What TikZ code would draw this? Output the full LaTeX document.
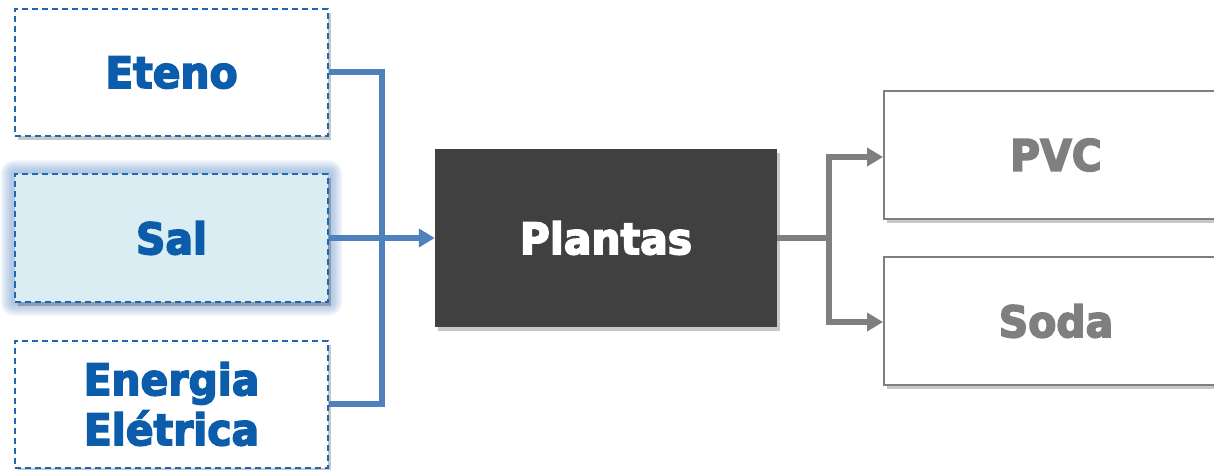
\documentclass[tikz,border=0pt]{standalone}
\usepackage{fontspec}
\setmainfont{DejaVu Sans}
\newfontfamily\heavyfont[FakeBold=3.5, FakeStretch=0.94]{DejaVu Sans Bold}
\usetikzlibrary{arrows.meta,shadows,backgrounds}
\definecolor{tblue}{HTML}{0B5CAB}
\definecolor{dblue}{HTML}{1F66B3}
\definecolor{cblue}{HTML}{4F81BD}
\definecolor{lfill}{HTML}{DAEDF3}
\definecolor{dark}{HTML}{404040}
\definecolor{tgray}{HTML}{7F7F7F}
\begin{document}
\begin{tikzpicture}[x=1pt,y=-1pt,
  bigtext/.style={font=\fontsize{43.5}{50}\selectfont\heavyfont, align=center},
  inbox/.style={bigtext, draw=dblue, line width=2pt, dash pattern=on 6pt off 4pt,
    fill=white, text=tblue, minimum width=313pt, minimum height=127pt, inner sep=0pt,
    drop shadow={shadow xshift=3pt, shadow yshift=-4pt, opacity=0.22, fill=black}},
  outbox/.style={bigtext, draw=tgray, line width=2pt, fill=white, text=tgray,
    minimum width=344pt, minimum height=128pt, inner sep=0pt,
    drop shadow={shadow xshift=3pt, shadow yshift=-4pt, opacity=0.22, fill=black}},
  bline/.style={draw=cblue, line width=6pt},
  gline/.style={draw=tgray, line width=6pt},
  btip/.style={-{Triangle[length=16pt,width=18pt]}},
]
\useasboundingbox (0,0) rectangle (1214,470);
\node[inbox] (eteno) at (171.5,72.5) {Eteno};
\node[inbox, fill=lfill, drop shadow={opacity=0}] (sal) at (171.5,238) {Sal};
\node[inbox] (energia) at (171.5,404) {Energia\\Elétrica};
\node[bigtext, fill=dark, text=white, minimum width=342pt, minimum height=178pt, inner sep=0pt,
  drop shadow={shadow xshift=3pt, shadow yshift=-4pt, opacity=0.22, fill=black}] (plantas) at (606,238) {Plantas};
\node[outbox] (pvc) at (1056,155) {PVC};
\node[outbox] (soda) at (1056,321) {Soda};
\begin{scope}[on background layer]
  \foreach \d in {13,11,9,7,5,3}
    \fill[cblue!80, opacity=0.12, rounded corners=\d pt]
      ([xshift=-\d pt, yshift=-\d pt]sal.south west) rectangle ([xshift=\d pt, yshift=\d pt]sal.north east);
\end{scope}
\draw[bline] (eteno.east) -- ++(53,0) |- (energia.east);
\draw[bline, btip] (sal.east) -- (plantas.west);
\draw[gline] (plantas.east) -- ++(52,0) coordinate (gj);
\draw[gline, btip] (gj) |- ([yshift=-2pt]pvc.west);
\draw[gline, btip] (gj) |- ([yshift=-1pt]soda.west);
\end{tikzpicture}
\end{document}
